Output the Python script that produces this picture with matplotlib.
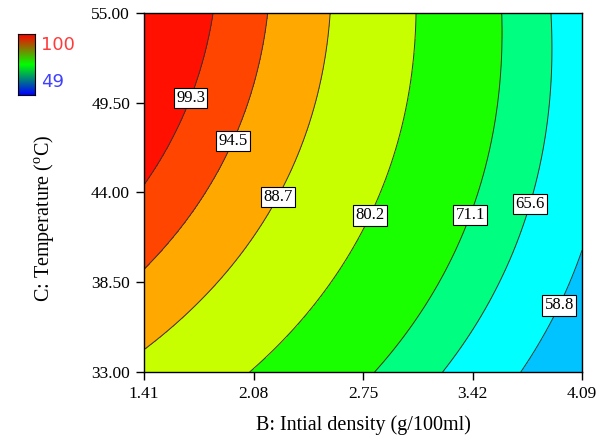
import matplotlib
matplotlib.use("Agg")
import matplotlib.pyplot as plt
import numpy as np
from matplotlib.colors import LinearSegmentedColormap

plt.rcParams['font.family'] = 'Liberation Serif'
plt.rcParams['mathtext.fontset'] = 'custom'
plt.rcParams['mathtext.rm'] = 'Liberation Serif'

# quadratic response model in coded units (B, C, BC, B^2, C^2)
coef_names = ["b0", "B", "C", "BC", "B2", "C2"]
coef_values = [81.73, -19.19, 6.76, -2.31, -2.0, -2.97]

b_ticks = [1.41, 2.08, 2.75, 3.42, 4.09]
c_ticks = [33.00, 38.50, 44.00, 49.50, 55.00]

levels = [58.8, 65.6, 71.1, 80.2, 88.7, 94.5, 99.3]
fill_colors = ['#00c3ff', '#00ffff', '#00ff80', '#1aff00', '#c8ff00',
               '#ffa800', '#ff4500', '#ff1000']
label_pos = [(3.925, 37.2), (3.735, 43.4), (3.36, 42.8), (2.75, 42.8),
             (2.20, 43.9), (1.94, 47.2), (1.67, 49.9)]

b0, b1, b2, b12, b11, b22 = coef_values
B = np.linspace(b_ticks[0], b_ticks[-1], 300)
C = np.linspace(c_ticks[0], c_ticks[-1], 300)
BB, CC = np.meshgrid(B, C)
u = (BB - 2.75) / 1.34
v = (CC - 44.0) / 11.0
Z = b0 + b1 * u + b2 * v + b12 * u * v + b11 * u ** 2 + b22 * v ** 2

fig = plt.figure(figsize=(6.03, 4.41), dpi=100)
ax = fig.add_axes([0.2388, 0.1565, 0.7264, 0.814])

bounds = [Z.min() - 1] + levels + [Z.max() + 1]
ax.contourf(BB, CC, Z, levels=bounds, colors=fill_colors)
cs = ax.contour(BB, CC, Z, levels=levels, colors='#333333', linewidths=0.7)
labels = ax.clabel(cs, fmt='%.1f', manual=label_pos, inline=False, fontsize=12, colors='black')
for t in labels:
    t.set_rotation(0)
    t.set_bbox(dict(facecolor='white', edgecolor='black', linewidth=0.8, pad=1.6))

ax.set_xlim(b_ticks[0], b_ticks[-1])
ax.set_ylim(c_ticks[0], c_ticks[-1])
ax.set_xticks(b_ticks)
ax.set_xticklabels([f"{t:.2f}" for t in b_ticks])
ax.set_yticks(c_ticks)
ax.set_yticklabels([f"{t:.2f}" for t in c_ticks])
ax.tick_params(direction='out', length=6, width=1, labelsize=12.5, pad=4)
for s in ax.spines.values():
    s.set_linewidth(1)

ax.set_xlabel("B: Intial density (g/100ml)", fontsize=14.5, labelpad=10)
ax.set_ylabel(r"C: Temperature ($^{\mathrm{o}}$C)", fontsize=14.5)
ax.yaxis.set_label_coords(-0.2, 0.429)

# colour legend at top-left
cmap = LinearSegmentedColormap.from_list("rgb", ['#0000ff', '#00ff00', '#ff0000'])
cax = fig.add_axes([0.030, 0.785, 0.028, 0.138])
cax.imshow(np.linspace(0, 1, 100).reshape(-1, 1), aspect='auto', cmap=cmap, origin='lower')
cax.set_xticks([])
cax.set_yticks([])
fig.text(0.068, 0.897, "100", color='#ff3c3c', fontsize=13, family='DejaVu Sans', va='center')
fig.text(0.068, 0.815, "49", color='#4040ff', fontsize=13, family='DejaVu Sans', va='center')

fig.savefig("out.png", dpi=100)
